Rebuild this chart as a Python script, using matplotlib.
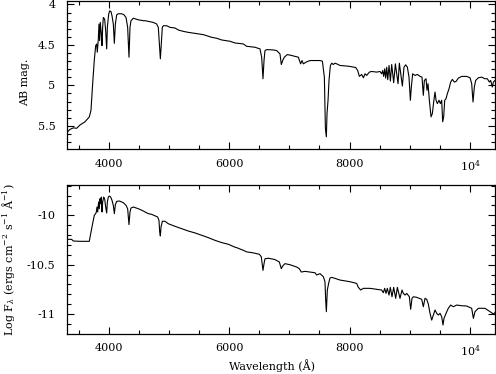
import numpy as np
import matplotlib
matplotlib.use("Agg")
import matplotlib.pyplot as plt
from matplotlib.ticker import MultipleLocator, FixedLocator, FuncFormatter

# spectrum: AB magnitude (top panel)
wave_top = [3303, 3357, 3412, 3469, 3523, 3606, 3678, 3706, 3734, 3761, 3784, 3800,
            3811, 3828, 3839, 3850, 3861, 3878, 3889, 3900, 3911, 3933, 3950, 3967,
            3978, 4000, 4017, 4039, 4055, 4077, 4094, 4111, 4133, 4160, 4216, 4254,
            4288, 4315, 4337, 4354, 4370, 4409, 4453, 4492, 4575, 4603, 4741, 4797,
            4824, 4841, 4858, 4874, 4891, 4907, 4963, 5018, 5101, 5157, 5240, 5323,
            5433, 5572, 5710, 5793, 5876, 6014, 6097, 6235, 6291, 6429, 6512, 6540,
            6562, 6579, 6595, 6623, 6734, 6789, 6844, 6866, 6889, 6916, 6966, 7038,
            7149, 7187, 7210, 7232, 7276, 7342, 7508, 7548, 7581, 7598, 7614, 7625,
            7642, 7658, 7681, 7703, 7730, 7758, 7786, 7841, 7980, 8101, 8134, 8162,
            8201, 8229, 8256, 8284, 8328, 8367, 8450, 8505, 8533, 8550, 8566, 8583,
            8599, 8616, 8633, 8655, 8677, 8699, 8732, 8760, 8804, 8826, 8876, 8903,
            8931, 8959, 8986, 9009, 9025, 9047, 9086, 9125, 9169, 9202, 9224, 9241,
            9269, 9285, 9302, 9324, 9352, 9374, 9396, 9418, 9435, 9457, 9485, 9507,
            9529, 9545, 9562, 9579, 9601, 9623, 9651, 9678, 9706, 9739, 9767, 9806,
            9861, 9944, 10000, 10027, 10049, 10071, 10093, 10138, 10193, 10248, 10287,
            10320, 10342, 10370, 10387, 10414]
mag_top = [5.586, 5.544, 5.525, 5.530, 5.490, 5.450, 5.390, 5.310, 4.980, 4.690, 4.510, 4.488,
           4.590, 4.427, 4.242, 4.447, 4.222, 4.365, 4.509, 4.283, 4.161, 4.181, 4.324, 4.549,
           4.283, 4.120, 4.079, 4.090, 4.140, 4.242, 4.480, 4.242, 4.128, 4.115, 4.115, 4.128,
           4.161, 4.283, 4.652, 4.283, 4.201, 4.170, 4.181, 4.190, 4.201, 4.201, 4.222, 4.242,
           4.283, 4.488, 4.672, 4.488, 4.283, 4.263, 4.263, 4.283, 4.291, 4.316, 4.333, 4.345,
           4.357, 4.373, 4.406, 4.418, 4.439, 4.455, 4.476, 4.488, 4.517, 4.529, 4.549, 4.652,
           4.918, 4.693, 4.570, 4.558, 4.562, 4.570, 4.611, 4.742, 4.693, 4.652, 4.619, 4.631,
           4.652, 4.734, 4.693, 4.734, 4.713, 4.693, 4.693, 4.701, 4.898, 5.532, 5.635, 5.348,
           5.184, 4.939, 4.754, 4.726, 4.742, 4.726, 4.734, 4.754, 4.763, 4.779, 4.816, 4.889,
           4.865, 4.906, 4.857, 4.877, 4.836, 4.828, 4.836, 4.828, 4.857, 4.816, 4.889, 4.795,
           4.910, 4.775, 4.930, 4.754, 4.947, 4.742, 4.967, 4.734, 4.979, 4.726, 5.008, 4.775,
           4.746, 4.775, 4.898, 5.184, 5.020, 4.857, 4.877, 4.865, 4.889, 4.898, 5.123, 4.939,
           4.918, 5.061, 4.979, 5.184, 5.389, 5.348, 5.205, 5.082, 5.184, 5.225, 5.184, 5.225,
           5.184, 5.450, 5.389, 5.184, 5.164, 5.102, 5.041, 4.959, 4.926, 4.959, 4.951, 4.910,
           4.889, 4.889, 4.906, 4.979, 5.205, 5.020, 4.939, 4.906, 4.898, 4.918, 4.918,
           4.959, 4.939, 5.020, 4.959, 4.939]

# same spectrum as log flux (bottom panel)
wave_bot = [3303, 3385, 3412, 3523, 3678, 3717, 3761, 3784, 3795, 3806, 3817, 3833,
            3844, 3856, 3867, 3878, 3889, 3900, 3917, 3933, 3950, 3967, 3978, 3994,
            4011, 4033, 4055, 4077, 4094, 4111, 4133, 4177, 4243, 4288, 4315, 4337,
            4354, 4370, 4409, 4492, 4575, 4603, 4658, 4714, 4813, 4835, 4847, 4858,
            4869, 4891, 4935, 4990, 5101, 5212, 5323, 5433, 5544, 5655, 5765, 5876,
            5987, 6086, 6125, 6235, 6291, 6401, 6501, 6534, 6562, 6579, 6595, 6651,
            6761, 6833, 6866, 6889, 6927, 7010, 7121, 7165, 7199, 7259, 7342, 7425,
            7453, 7508, 7564, 7591, 7603, 7614, 7630, 7652, 7674, 7702, 7757, 7840,
            8007, 8117, 8145, 8184, 8228, 8339, 8449, 8532, 8560, 8582, 8604, 8626,
            8654, 8676, 8704, 8732, 8765, 8793, 8837, 8870, 8892, 8920, 8948, 8992,
            9014, 9036, 9058, 9114, 9197, 9224, 9252, 9280, 9307, 9335, 9363, 9390,
            9418, 9446, 9473, 9501, 9529, 9551, 9567, 9601, 9639, 9678, 9722, 9778,
            9861, 9944, 10027, 10055, 10082, 10138, 10248, 10331, 10387, 10414]
logf_bot = [-10.243, -10.243, -10.260, -10.263, -10.263, -10.135, -10.000, -9.983, -9.966, -9.916, -9.966, -9.865,
            -9.933, -9.832, -9.882, -9.815, -9.966, -9.865, -9.815, -9.832, -9.916, -9.976, -9.865, -9.815,
            -9.805, -9.815, -9.848, -9.899, -9.983, -9.892, -9.859, -9.855, -9.872, -9.899, -9.933, -10.094,
            -9.966, -9.926, -9.916, -9.933, -9.956, -9.966, -9.983, -9.990, -10.017, -10.050, -10.169, -10.209,
            -10.118, -10.060, -10.060, -10.085, -10.111, -10.135, -10.159, -10.178, -10.202, -10.226, -10.253, -10.276,
            -10.293, -10.320, -10.327, -10.354, -10.370, -10.380, -10.394, -10.420, -10.557, -10.490, -10.440, -10.434,
            -10.448, -10.472, -10.540, -10.513, -10.489, -10.500, -10.523, -10.540, -10.574, -10.567, -10.574, -10.581,
            -10.604, -10.590, -10.621, -10.672, -10.857, -10.975, -10.756, -10.688, -10.635, -10.628, -10.638, -10.655,
            -10.672, -10.689, -10.729, -10.756, -10.739, -10.739, -10.749, -10.756, -10.783, -10.739, -10.790, -10.739,
            -10.807, -10.729, -10.824, -10.729, -10.840, -10.729, -10.840, -10.756, -10.790, -10.807, -10.790, -10.824,
            -10.951, -10.840, -10.824, -10.830, -10.850, -10.925, -10.840, -10.850, -10.898, -10.992, -11.060, -11.009,
            -10.958, -10.992, -11.009, -10.992, -11.026, -11.110, -11.043, -10.992, -10.941, -10.908, -10.925, -10.908,
            -10.915, -10.918, -10.941, -11.043, -10.975, -10.941, -10.941, -10.975, -10.998, -10.985]

plt.rcParams['font.family'] = ['DejaVu Serif']
plt.rcParams['mathtext.fontset'] = 'dejavuserif'

W, H = 496, 374
fig = plt.figure(figsize=(W / 100, H / 100), dpi=100)

left = 66.7 / W
width = (495 - 66.7) / W
axTop = fig.add_axes([left, 1 - 149 / H, width, (149 - 0.8) / H])
axBot = fig.add_axes([left, 1 - 333.7 / H, width, (333.7 - 184.7) / H])


def xFmt(val, pos):
    if val == 10000:
        return r'$10^4$'
    return '%d' % val


for ax in (axTop, axBot):
    ax.plot([], [])
    ax.set_xlim(3303, 10414)
    ax.xaxis.set_major_locator(FixedLocator([4000, 6000, 8000, 10000]))
    ax.xaxis.set_minor_locator(MultipleLocator(500))
    ax.xaxis.set_major_formatter(FuncFormatter(xFmt))
    ax.yaxis.set_minor_locator(MultipleLocator(0.1))
    ax.tick_params(which='both', direction='in', top=True, right=True, width=0.8,
                   labelsize=8)
    ax.tick_params(which='major', length=5)
    ax.tick_params(which='minor', length=2.8)
    ax.tick_params(axis='x', pad=7)
    ax.tick_params(axis='y', pad=8)
    for sp in ax.spines.values():
        sp.set_linewidth(0.9)

axTop.plot(wave_top, mag_top, color='black', lw=0.8)
axTop.set_ylim(5.786, 3.955)
axTop.yaxis.set_major_locator(FixedLocator([4, 4.5, 5, 5.5]))
axTop.yaxis.set_major_formatter(FuncFormatter(lambda v, p: ('%g' % v)))
axTop.set_ylabel('AB mag.', fontsize=8, va='center')
axTop.yaxis.set_label_coords(-0.097, 0.45)

axBot.plot(wave_bot, logf_bot, color='black', lw=0.8)
axBot.set_ylim(-11.198, -9.69)
axBot.yaxis.set_major_locator(FixedLocator([-10, -10.5, -11]))
axBot.yaxis.set_major_formatter(FuncFormatter(lambda v, p: ('%g' % v)))
axBot.set_ylabel(r'Log F$_\lambda$ (ergs cm$^{-2}$ s$^{-1}$ Å$^{-1}$)', fontsize=8, va='center')
axBot.yaxis.set_label_coords(-0.135, 0.5)
axBot.set_xlabel('Wavelength (Å)', fontsize=8, va='center')
axBot.xaxis.set_label_coords(0.479, -0.217)

fig.savefig('out.png', dpi=100)
